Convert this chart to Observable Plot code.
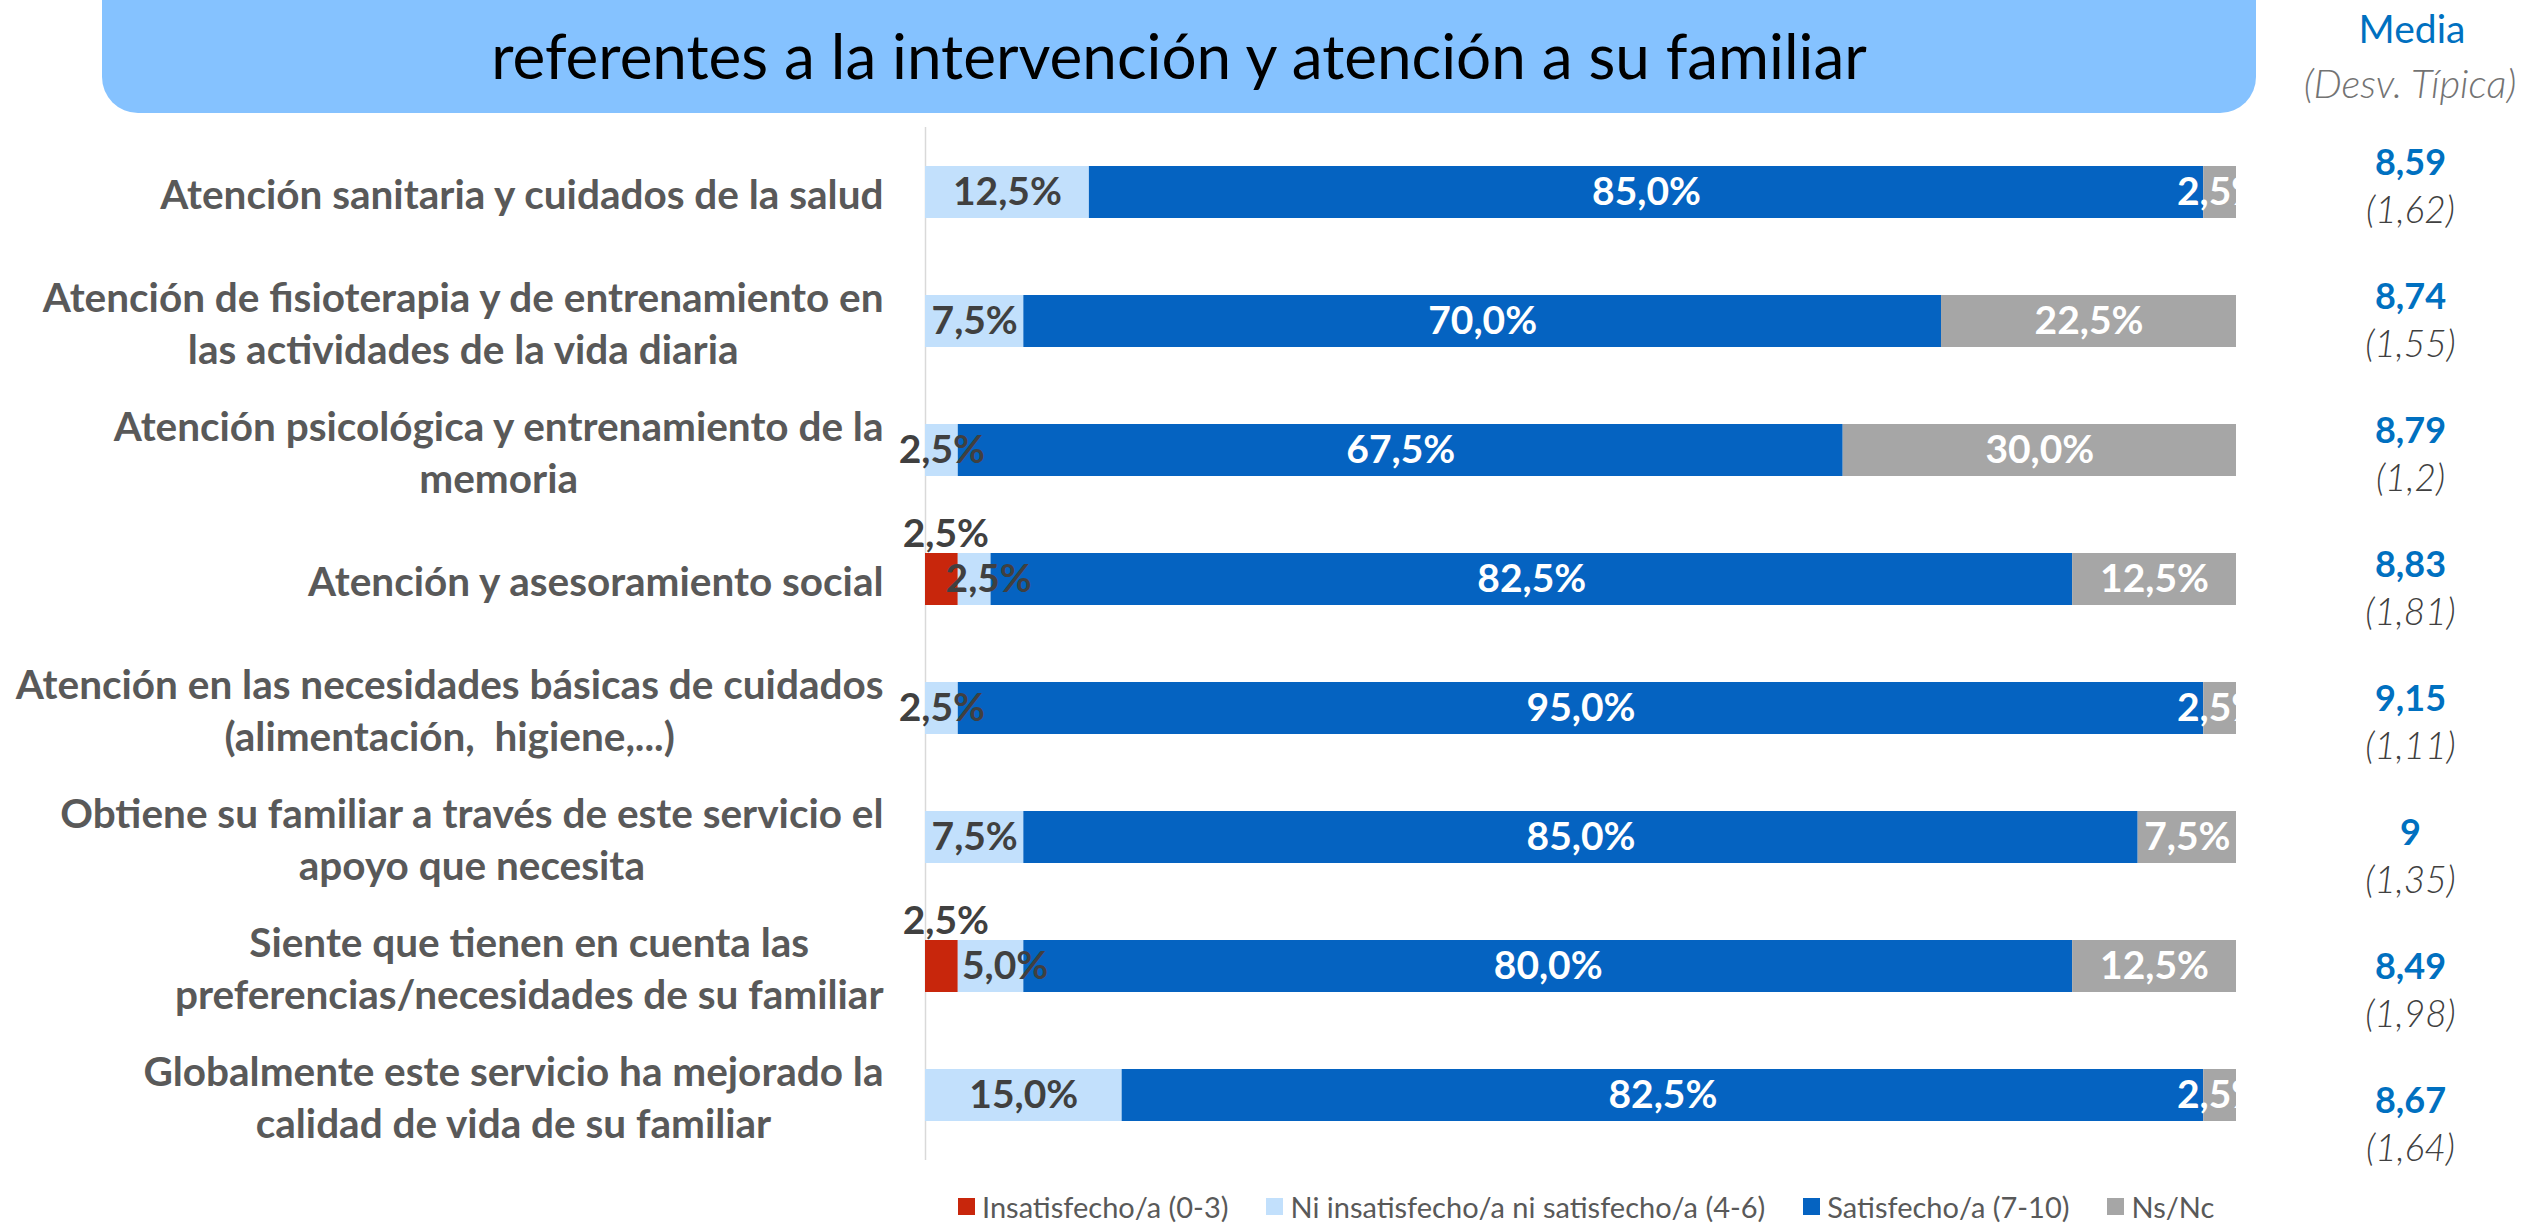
<!DOCTYPE html>
<html>
<head>
<meta charset="utf-8">
<script src="https://cdn.jsdelivr.net/npm/d3@7"></script>
<script src="https://cdn.jsdelivr.net/npm/@observablehq/plot@0.6"></script>
<style>
html, body { margin: 0; padding: 0; background: #fff; overflow: hidden; }
body { width: 2544px; height: 1224px; position: relative; font-family: Lato, sans-serif; }
.abs { position: absolute; left: 0; top: 0; }
#title { position: absolute; left: 102px; top: -80px; width: 2154px; height: 193px; background: #85C2FF; border-radius: 0 0 36px 36px; }
#t2 { position: absolute; left: 0; right: 0; top: 98px; line-height: 74px; font-size: 62px; text-align: center; color: #000; white-space: nowrap; }
#hmedia { position: absolute; left: 2262px; width: 300px; top: 5px; text-align: center; font-size: 39px; line-height: 47px; color: #0070C0; }
#hdesv { position: absolute; left: 2260px; width: 300px; top: 59px; text-align: center; font-size: 40px; line-height: 48px; color: #737373; font-style: italic; font-weight: 300; white-space: nowrap; }
#legend { position: absolute; left: 958px; top: 1189px; font-family: Lato, sans-serif; font-size: 29px; color: #595959; }
#legend .lg-swatch { margin-right: 38px !important; }
#legend .lg-swatch > svg { margin-right: 7px !important; }
</style>
</head>
<body>
<div id="chart" class="abs"></div>
<div id="side" class="abs"></div>
<div id="title"><div id="t2">referentes a la intervención y atención a su familiar</div></div>
<div id="hmedia">Media</div>
<div id="hdesv">(Desv. Típica)</div>
<div id="legend"></div>
<script>
// ---- data ----
const categories = [
  "Atención sanitaria y cuidados de la salud",
  "Atención de fisioterapia y de entrenamiento en las actividades de la vida diaria",
  "Atención psicológica y entrenamiento de la memoria",
  "Atención y asesoramiento social",
  "Atención en las necesidades básicas de cuidados (alimentación,  higiene,...)",
  "Obtiene su familiar a través de este servicio el apoyo que necesita",
  "Siente que tienen en cuenta las preferencias/necesidades de su familiar",
  "Globalmente este servicio ha mejorado la calidad de vida de su familiar"
];
const categoryLabels = [
  "Atención sanitaria y cuidados de la salud",
  "Atención de fisioterapia y de entrenamiento en\nlas actividades de la vida diaria",
  "Atención psicológica y entrenamiento de la\nmemoria",
  "Atención y asesoramiento social",
  "Atención en las necesidades básicas de cuidados\n(alimentación,  higiene,...)",
  "Obtiene su familiar a través de este servicio el\napoyo que necesita",
  "Siente que tienen en cuenta las\npreferencias/necesidades de su familiar",
  "Globalmente este servicio ha mejorado la\ncalidad de vida de su familiar"
];
const groups = [
  "Insatisfecho/a (0-3)",
  "Ni insatisfecho/a ni satisfecho/a (4-6)",
  "Satisfecho/a (7-10)",
  "Ns/Nc"
];
const insatisfecho = [0, 0, 0, 2.5, 0, 0, 2.5, 0];
const niNi         = [12.5, 7.5, 2.5, 2.5, 2.5, 7.5, 5.0, 15.0];
const satisfecho   = [85.0, 70.0, 67.5, 82.5, 95.0, 85.0, 80.0, 82.5];
const nsnc         = [2.5, 22.5, 30.0, 12.5, 2.5, 7.5, 12.5, 2.5];
const means = [8.59, 8.74, 8.79, 8.83, 9.15, 9, 8.49, 8.67];
const sds   = [1.62, 1.55, 1.2, 1.81, 1.11, 1.35, 1.98, 1.64];
const colors = ["#C8260C", "#C2E0FC", "#0563C1", "#A6A6A6"];

// ---- build long table ----
const series = [insatisfecho, niNi, satisfecho, nsnc];
const long = categories.flatMap((c, i) => series.map((arr, g) => ({
  cat: c, group: groups[g], gi: g, value: arr[i], hasRed: insatisfecho[i] > 0
})));

const fmtPct = v => v.toFixed(1).replace(".", ",") + "%";
const fmtNum = v => String(v).replace(".", ",");

const font = {fontFamily: "Lato, sans-serif", fontSize: 39, fontWeight: "bold"};
const lab = (text, extra = {}) =>
  Plot.text(long, Plot.stackX({x: "value", y: "cat", text, lineAnchor: "middle", ...font, ...extra}));

const chart = Plot.plot({
  width: 2544,
  height: 1224,
  marginLeft: 925,
  marginRight: 308,
  marginTop: 127,
  marginBottom: 64,
  style: {background: "transparent", overflow: "visible"},
  x: {domain: [0, 100], axis: null},
  y: {domain: categories, axis: null, paddingInner: 0.6, paddingOuter: 0.3},
  color: {domain: groups, range: colors},
  marks: [
    Plot.ruleX([0], {stroke: "#D9D9D9", strokeWidth: 1.5}),
    Plot.barX(long, Plot.stackX({x: "value", y: "cat", fill: "group"})),
    // Insatisfecho labels: placed above the bar
    lab(d => d.gi === 0 && d.value > 0 ? fmtPct(d.value) : null, {fill: "#404040", dy: -45, dx: 4}),
    // Ni/ni labels
    lab(d => d.gi === 1 && d.value > 0 && !d.hasRed ? fmtPct(d.value) : null, {fill: "#404040"}),
    lab(d => d.gi === 1 && d.value > 0 && d.hasRed ? fmtPct(d.value) : null, {fill: "#404040", dx: 14}),
    // Satisfecho labels
    lab(d => d.gi === 2 && d.value > 0 ? fmtPct(d.value) : null, {fill: "white"}),
    // Ns/Nc labels (clipped at the end of the bar)
    lab(d => d.gi === 3 && d.value > 0 ? fmtPct(d.value) : null, {fill: "white", clip: true}),
    // category labels
    Plot.text(categories, {
      y: d => d,
      text: (d, i) => categoryLabels[i],
      frameAnchor: "left",
      textAnchor: "end",
      dx: -42,
      fill: "#595959",
      lineHeight: 52 / 40.5,
      ...font,
      fontSize: 40.5
    })
  ]
});
document.getElementById("chart").appendChild(chart);

// center wrapped lines against each other (as in the original)
chart.querySelectorAll("text").forEach(t => {
  const spans = [...t.querySelectorAll("tspan")];
  if (spans.length < 2) return;
  const ws = spans.map(s => s.getComputedTextLength());
  const m = Math.max(...ws);
  spans.forEach((s, k) => s.setAttribute("x", -(m - ws[k]) / 2));
});

// right column: mean and standard deviation
const side = Plot.plot({
  width: 2544,
  height: 1224,
  marginLeft: 2300,
  marginRight: 24,
  marginTop: 162,
  marginBottom: 123,
  style: {background: "transparent", overflow: "visible"},
  y: {type: "point", domain: categories, axis: null, padding: 0},
  marks: [
    Plot.text(categories, {y: d => d, text: (d, i) => fmtNum(means[i]), fill: "#0070C0",
      fontFamily: "Lato, sans-serif", fontWeight: "bold", fontSize: 36}),
    Plot.text(categories, {y: d => d, text: (d, i) => `(${fmtNum(sds[i])})`, dy: 48, fill: "#404040",
      fontFamily: "Lato, sans-serif", fontStyle: "italic", fontWeight: 300, fontSize: 37})
  ]
});
document.getElementById("side").appendChild(side);

// legend
const legend = Plot.legend({
  color: {type: "categorical", domain: groups, range: colors},
  swatchSize: 17,
  className: "lg",
  style: {fontFamily: "Lato, sans-serif", fontSize: "29px", color: "#595959"}
});
document.getElementById("legend").appendChild(legend);
</script>
</body>
</html>
